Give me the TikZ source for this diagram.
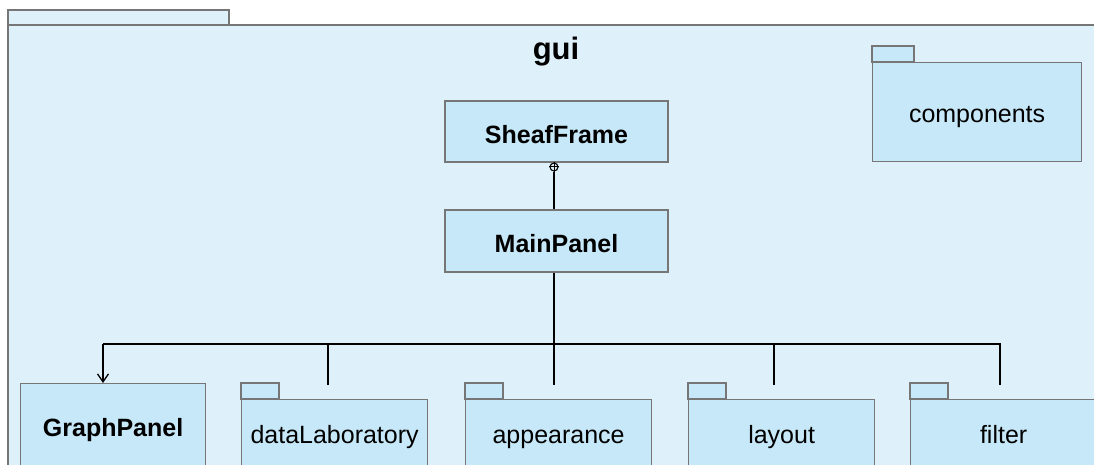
\documentclass[tikz,border=0pt]{standalone}
\usepackage{fontspec}
\setmainfont{Liberation Sans}
\usetikzlibrary{arrows.meta}
\definecolor{pkgbg}{RGB}{222,241,250}
\definecolor{boxbg}{RGB}{198,232,248}
\definecolor{edgegray}{RGB}{118,118,118}
\begin{document}
\begin{tikzpicture}[x=1pt,y=-1pt,
  classbox/.style={draw=edgegray, fill=boxbg, line width=1.2pt, inner sep=0pt,
    text height=26.5pt, text depth=3pt,
    font=\fontsize{25}{28}\selectfont\bfseries},
  pkgbody/.style={draw=edgegray, fill=boxbg, line width=1.2pt, inner sep=0pt,
    anchor=north west, minimum width=186pt, minimum height=67pt,
    text height=25pt, text depth=5pt,
    font=\fontsize{25}{28}\selectfont},
  pkgtab/.style={draw=edgegray, fill=boxbg, line width=1.2pt},
  link/.style={draw=black, line width=1.3pt}]
\useasboundingbox (0,0) rectangle (1094,465);
\clip (0,0) rectangle (1094,465);

% enclosing package "gui"
\draw[edgegray, fill=pkgbg, line width=1.2pt] (8,25) rectangle (229,10);
\draw[edgegray, fill=pkgbg, line width=1.2pt] (8,490) -- (8,25) -- (1110,25) -- (1110,490) -- cycle;
\node[font=\fontsize{31}{34}\selectfont\bfseries, anchor=base] (guititle) at (556,59.5) {gui};

% classes
\node[classbox, minimum width=223pt, minimum height=61pt] (sheaf) at (556.5,131.5) {SheafFrame};
\node[classbox, minimum width=223pt, minimum height=62pt] (main) at (556.5,241) {MainPanel};
\node[classbox, anchor=north west, minimum width=185pt, minimum height=83pt] (graph) at (20,383) {GraphPanel};

% nested package "components"
\node[pkgbody, minimum width=209pt, minimum height=99pt] (components) at (872,62) {components};
\draw[pkgtab] (components.north west) rectangle ++(42,-16);

% bottom packages
\foreach \name/\x/\txt in {datalab/241/dataLaboratory, appearance/465/appearance,
    layout/688/layout, filter/910/filter}{
  \node[pkgbody] (\name) at (\x,399) {\txt};
  \draw[pkgtab] (\name.north west) rectangle ++(38,-16);
}

% nesting relation SheafFrame -> MainPanel
\node[draw=black, circle, line width=1.1pt, minimum size=8pt, inner sep=0pt] (nest) at (554,167) {};
\draw[black, line width=1pt] (nest.north) -- (nest.south) (nest.west) -- (nest.east);
\draw[link] (nest.south) -- (main.north -| nest.south);

% distribution bus below MainPanel
\coordinate (bus) at (554,344);
\coordinate (busL) at (103,344);
\coordinate (busR) at (1000,344);
\coordinate (dlEnd) at (328,385);
\coordinate (apEnd) at (554,385);
\coordinate (lyEnd) at (774,385);
\coordinate (ftEnd) at (1000,385);
\draw[link] (main.south -| bus) -- (apEnd);
\draw[link] (busL) -- (busR) -- (ftEnd);
\draw[link] (dlEnd |- bus) -- (dlEnd);
\draw[link] (lyEnd |- bus) -- (lyEnd);
\draw[link, -{Straight Barb[length=8pt,width=11pt,line width=1.3pt]}] (busL) -- (graph.north -| busL);
\end{tikzpicture}
\end{document}
